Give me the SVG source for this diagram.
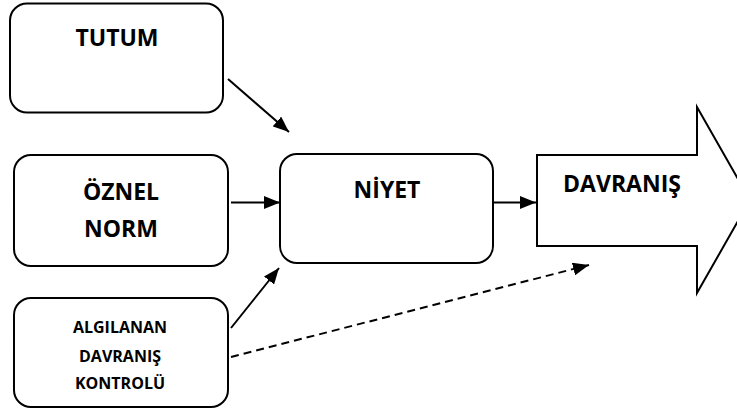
<svg xmlns="http://www.w3.org/2000/svg" width="737" height="411" viewBox="0 0 737 411">
<style>
.box{fill:#fff;stroke:#000;stroke-width:2}
.lbl{font-family:"Open Sans","Noto Sans","Liberation Sans",sans-serif;font-weight:bold;fill:#000;text-anchor:middle}
.big{font-size:23px}
.small{font-size:16px}
.conn{stroke:#000;stroke-width:2;fill:none}
.dash{stroke-dasharray:8 5}
</style>
<defs>
<marker id="ah" viewBox="0 0 16 13" refX="16" refY="6.5" markerWidth="16" markerHeight="13" markerUnits="userSpaceOnUse" orient="auto">
<path d="M0,0 L16,6.5 L0,13 z" fill="#000"/>
</marker>
</defs>
<g id="tutum">
<rect class="box" x="10" y="3.5" width="213" height="109" rx="17"/>
<text class="lbl big" x="117" y="46">TUTUM</text>
</g>
<g id="oznel-norm">
<rect class="box" x="14" y="155" width="214" height="111" rx="17"/>
<text class="lbl big" x="121" y="200">ÖZNEL</text>
<text class="lbl big" x="121" y="237">NORM</text>
</g>
<g id="algilanan">
<rect class="box" x="14" y="298" width="214" height="109" rx="17"/>
<text class="lbl small" x="120" y="333">ALGILANAN</text>
<text class="lbl small" x="120" y="362">DAVRANIŞ</text>
<text class="lbl small" x="120" y="389">KONTROLÜ</text>
</g>
<g id="niyet">
<rect class="box" x="280" y="154" width="213" height="109" rx="17"/>
<text class="lbl big" x="387" y="198">NİYET</text>
</g>
<g id="davranis">
<path class="box" d="M537,155 L697,155 L697,107 L750,200 L697,293 L697,246 L537,246 Z"/>
<text class="lbl big" x="622" y="192">DAVRANIŞ</text>
</g>
<g id="connectors">
<line class="conn" x1="228" y1="79" x2="289" y2="132" marker-end="url(#ah)"/>
<line class="conn" x1="231" y1="202.5" x2="280" y2="202.5" marker-end="url(#ah)"/>
<line class="conn" x1="231" y1="328" x2="279" y2="268" marker-end="url(#ah)"/>
<line class="conn" x1="493" y1="202.5" x2="536" y2="202.5" marker-end="url(#ah)"/>
<line class="conn dash" x1="231" y1="357" x2="589" y2="265" marker-end="url(#ah)"/>
</g>
</svg>
